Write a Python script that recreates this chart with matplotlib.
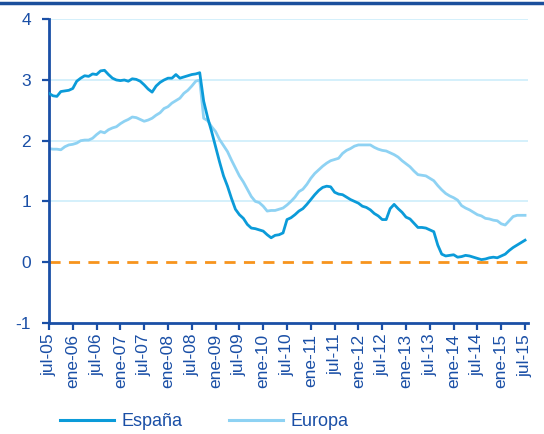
import matplotlib
matplotlib.use('Agg')
import matplotlib.pyplot as plt
import numpy as np
from matplotlib.lines import Line2D

# monthly data, jul-05 .. jul-15
espana = [2.78, 2.74, 2.73, 2.81, 2.82, 2.83, 2.86, 2.98, 3.03, 3.07,
          3.06, 3.10, 3.09, 3.15, 3.16, 3.09, 3.03, 3.00, 2.99, 3.00,
          2.98, 3.02, 3.01, 2.98, 2.92, 2.85, 2.80, 2.90, 2.96, 3.00,
          3.03, 3.03, 3.09, 3.03, 3.05, 3.07, 3.09, 3.10, 3.12, 2.65,
          2.38, 2.15, 1.90, 1.65, 1.42, 1.25, 1.05, 0.87, 0.78, 0.72,
          0.62, 0.56, 0.55, 0.53, 0.51, 0.45, 0.40, 0.44, 0.45, 0.48,
          0.70, 0.73, 0.78, 0.84, 0.88, 0.95, 1.03, 1.11, 1.18, 1.23,
          1.25, 1.24, 1.15, 1.12, 1.11, 1.07, 1.03, 1.00, 0.97, 0.92,
          0.90, 0.86, 0.80, 0.76, 0.70, 0.70, 0.88, 0.95, 0.88, 0.82,
          0.74, 0.71, 0.64, 0.57, 0.57, 0.56, 0.53, 0.50, 0.28, 0.13,
          0.10, 0.11, 0.12, 0.08, 0.09, 0.11, 0.10, 0.08, 0.06, 0.04,
          0.05, 0.07, 0.08, 0.07, 0.10, 0.13, 0.19, 0.24, 0.28, 0.32,
          0.36]
europa = [1.87, 1.86, 1.86, 1.85, 1.90, 1.93, 1.94, 1.96, 2.00, 2.01,
          2.01, 2.04, 2.10, 2.15, 2.13, 2.18, 2.21, 2.23, 2.28, 2.32,
          2.35, 2.39, 2.38, 2.35, 2.32, 2.34, 2.37, 2.42, 2.46, 2.53,
          2.56, 2.62, 2.66, 2.70, 2.78, 2.83, 2.90, 2.98, 3.00, 2.37,
          2.33, 2.23, 2.15, 2.02, 1.92, 1.82, 1.68, 1.55, 1.42, 1.32,
          1.20, 1.08, 1.00, 0.98, 0.92, 0.84, 0.85, 0.85, 0.87, 0.89,
          0.94, 1.00, 1.07, 1.16, 1.20, 1.28, 1.38, 1.46, 1.52, 1.58,
          1.63, 1.67, 1.69, 1.71, 1.79, 1.84, 1.87, 1.91, 1.93, 1.93,
          1.93, 1.93, 1.89, 1.86, 1.84, 1.83, 1.80, 1.77, 1.73, 1.67,
          1.62, 1.57, 1.50, 1.44, 1.43, 1.42, 1.38, 1.34, 1.26, 1.19,
          1.13, 1.09, 1.06, 1.02, 0.93, 0.89, 0.86, 0.82, 0.78, 0.76,
          0.72, 0.71, 0.69, 0.68, 0.63, 0.61, 0.68, 0.75, 0.77, 0.77,
          0.77]
tick_labels = ['jul-05', 'ene-06', 'jul-06', 'ene-07', 'jul-07', 'ene-08',
               'jul-08', 'ene-09', 'jul-09', 'ene-10', 'jul-10', 'ene-11',
               'jul-11', 'ene-12', 'jul-12', 'ene-13', 'jul-13', 'ene-14',
               'jul-14', 'ene-15', 'jul-15']

navy = '#1a4fa6'
c_es = '#0b9bd9'
c_eu = '#8ed2f3'

plt.rcParams['font.family'] = ['Liberation Sans', 'DejaVu Sans']
plt.rcParams['axes.unicode_minus'] = False

fig = plt.figure(figsize=(5.44, 4.34), dpi=100)
ax = fig.add_axes([0.090, 0.2564, 0.881, 0.6991])

months = np.arange(len(espana))
ax.set_xlim(0, 120.8)
ax.set_ylim(-1, 4)

for v in [1, 2, 3, 4]:
    ax.axhline(v, color='#cdeefb', lw=1.2, zorder=0)
ax.axhline(0, color='#f7941d', lw=2, dashes=(4, 3), zorder=1)

ax.plot(months, europa, color=c_eu, lw=2.0, label='Europa', zorder=2)
ax.plot(months, espana, color=c_es, lw=2.0, label='España', zorder=3)

ax.set_yticks([-1, 0, 1, 2, 3, 4])
ax.set_xticks(np.arange(0, 121, 6))
ax.set_xticklabels(tick_labels, rotation=90)
ax.tick_params(axis='both', colors=navy, width=1.6, length=5, direction='out')
ax.tick_params(axis='y', labelsize=12.5, pad=8)
ax.tick_params(axis='x', labelsize=12.5, pad=3)

for s in ['top', 'right']:
    ax.spines[s].set_visible(False)
for s in ['left', 'bottom']:
    ax.spines[s].set_color(navy)
    ax.spines[s].set_linewidth(2)

handles = [Line2D([0], [0], color=c_es, lw=2.2), Line2D([0], [0], color=c_eu, lw=2.2)]
leg = fig.legend(handles, ['España', 'Europa'], loc='center left',
                 bbox_to_anchor=(0.08, 0.028), ncol=2, frameon=False,
                 handlelength=3.0, handletextpad=0.4, columnspacing=2.6,
                 fontsize=13)
for t in leg.get_texts():
    t.set_color(navy)

# thin band at the top
fig.add_artist(Line2D([0, 1], [0.993, 0.993], transform=fig.transFigure,
                      color='#1b4f9c', lw=2.5))

fig.savefig('out.png', dpi=100)
